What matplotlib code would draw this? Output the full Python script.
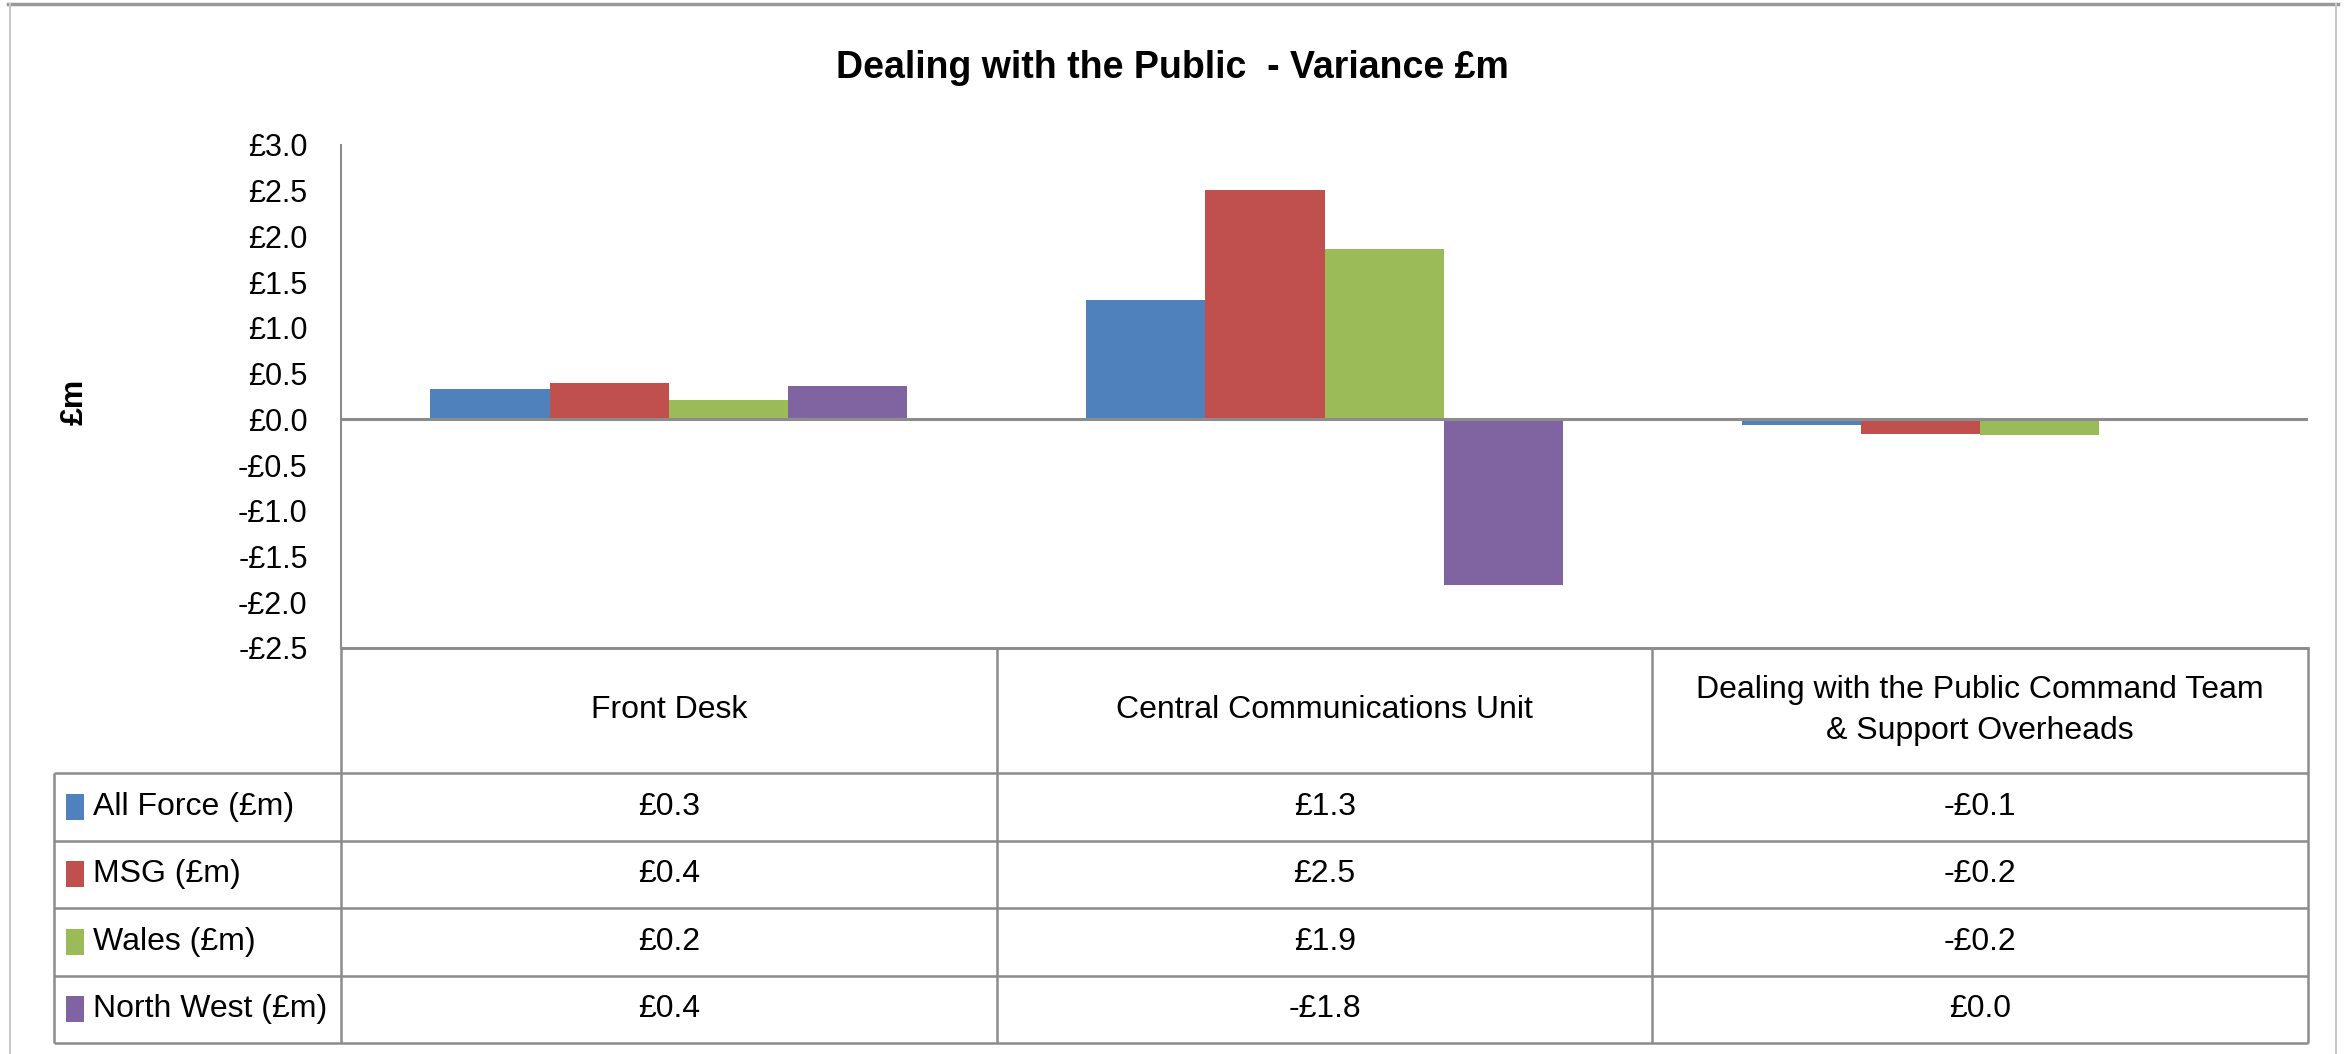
import matplotlib
matplotlib.use("Agg")
import matplotlib.pyplot as plt
from matplotlib.patches import Rectangle
from matplotlib.lines import Line2D

# ---------------- data ----------------
categories = ["Front Desk", "Central Communications Unit",
              "Dealing with the Public Command Team\n& Support Overheads"]
series = ["All Force (£m)", "MSG (£m)", "Wales (£m)", "North West (£m)"]
all_force = [0.335, 1.31, -0.06]
msg = [0.40, 2.51, -0.16]
wales = [0.21, 1.86, -0.17]
north_west = [0.37, -1.81, -0.02]
yticks = [3.0, 2.5, 2.0, 1.5, 1.0, 0.5, 0.0, -0.5, -1.0, -1.5, -2.0, -2.5]
title = "Dealing with the Public  - Variance £m"
ylabel = "£m"

values = [all_force, msg, wales, north_west]
colors = ["#4F81BD", "#C0504D", "#9BBB59", "#8064A2"]

plt.rcParams["font.family"] = ["Liberation Sans", "DejaVu Sans"]

def money(v):
    r = round(v, 1)
    if r == 0:
        return "£0.0"
    return ("-£%.1f" % abs(r)) if r < 0 else ("£%.1f" % r)

W, H = 2346, 1054
fig = plt.figure(figsize=(W / 100, H / 100), dpi=100)
fig.patch.set_facecolor("white")

def fx(px):
    return px / W

def fy(py):
    return 1 - py / H

grid_c = "#8c8c8c"
fs_tab = 23

# ---------------- main axes ----------------
ax = fig.add_axes([fx(341), fy(648), fx(2308) - fx(341), fy(145) - fy(648)])
ax.set_xlim(0, 3)
ax.set_ylim(-2.5, 3.0)
bw = 0.182
for j, (vals, c) in enumerate(zip(values, colors)):
    xs = [i + 0.5 + (j - 1.5) * bw for i in range(len(categories))]
    ax.bar(xs, vals, width=bw, color=c, edgecolor="none", zorder=2)
ax.axhline(0, color=grid_c, lw=2.2, zorder=3)
for s in ["top", "right"]:
    ax.spines[s].set_visible(False)
ax.spines["left"].set_color(grid_c)
ax.spines["left"].set_linewidth(1.5)
ax.spines["bottom"].set_color(grid_c)
ax.spines["bottom"].set_linewidth(2)
ax.set_xticks([])
ax.set_yticks(yticks)
ax.set_yticklabels([money(t) for t in yticks], fontsize=22)
ax.tick_params(axis="y", length=0, pad=24)
ax.set_ylabel(ylabel, fontsize=23, fontweight="bold")
ax.yaxis.set_label_coords(-0.128, 0.49)

fig.text(0.4996, fy(68), title, ha="center", va="center",
         fontsize=27, fontweight="bold")

# ---------------- data table ----------------
x0 = -(341 - 54) / 655
tax = fig.add_axes([fx(54), fy(1043), fx(2308) - fx(54), fy(648) - fy(1043)])
tax.set_xlim(x0, 3)
tax.set_ylim(395, 0)
tax.axis("off")
rows = [0, 125, 192.5, 260, 327.5, 395]
lk = dict(color=grid_c, lw=1.8, clip_on=False, solid_capstyle="butt")
tax.plot([0, 3], [0, 0], **lk)
for r in rows[1:]:
    tax.plot([x0, 3], [r, r], **lk)
tax.plot([x0, x0], [rows[1], rows[-1]], **lk)
for i in range(len(categories) + 1):
    tax.plot([i, i], [0, rows[-1]], **lk)

for i, cat in enumerate(categories):
    tax.text(i + 0.5, rows[1] / 2, cat, ha="center", va="center",
             fontsize=fs_tab, linespacing=1.45)

for j, (name, vals, c) in enumerate(zip(series, values, colors)):
    yc = (rows[j + 1] + rows[j + 2]) / 2
    tax.add_patch(Rectangle(((66 - 341) / 655, yc - 13), 18 / 655, 26,
                            facecolor=c, edgecolor="none", clip_on=False))
    tax.text((93 - 341) / 655, yc, name, ha="left", va="center", fontsize=fs_tab)
    for i, v in enumerate(vals):
        tax.text(i + 0.5, yc, money(v), ha="center", va="center", fontsize=fs_tab)

# ---------------- outer frame ----------------
fig.add_artist(Line2D([fx(8), fx(2338)], [fy(4), fy(4)], color="#999999", lw=2.5,
                      transform=fig.transFigure))
fig.add_artist(Line2D([fx(10), fx(10)], [fy(4), 0], color="#c8c8c8", lw=1.5,
                      transform=fig.transFigure))
fig.add_artist(Line2D([fx(2336), fx(2336)], [fy(4), 0], color="#c8c8c8", lw=1.5,
                      transform=fig.transFigure))

fig.savefig("out.png", dpi=100, facecolor="white")
